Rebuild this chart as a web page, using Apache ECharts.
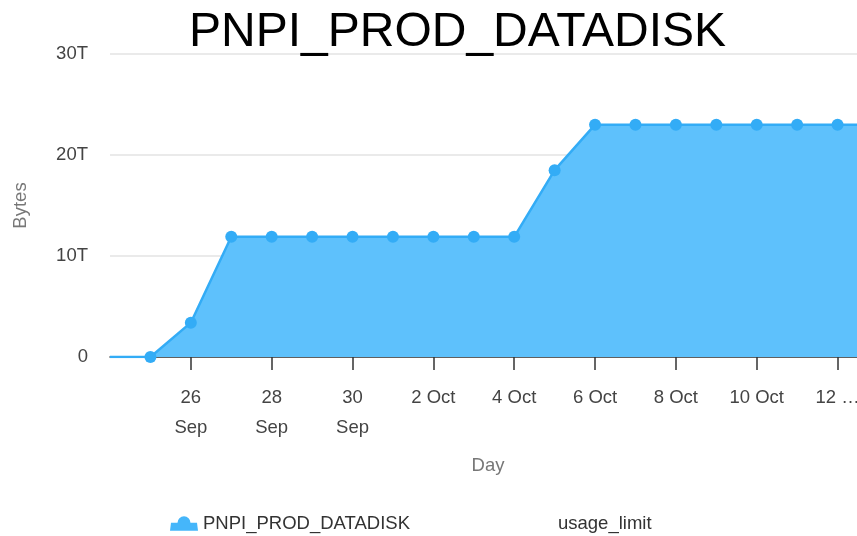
<!DOCTYPE html>
<html>
<head>
<meta charset="utf-8">
<script src="https://cdn.jsdelivr.net/npm/echarts@6/dist/echarts.min.js"></script>
<style>
html,body{margin:0;padding:0;overflow:hidden;background:#fff;}
#chart{width:915px;height:536px;}
</style>
</head>
<body>
<div id="chart"></div>
<script>
// Data
var titleText = 'PNPI_PROD_DATADISK';
var days = ['24 Sep','25 Sep','26 Sep','27 Sep','28 Sep','29 Sep','30 Sep','1 Oct','2 Oct','3 Oct',
            '4 Oct','5 Oct','6 Oct','7 Oct','8 Oct','9 Oct','10 Oct','11 Oct','12 Oct','13 Oct'];
var usageBytes = [0, 0, 3.4e12, 11.9e12, 11.9e12, 11.9e12, 11.9e12, 11.9e12, 11.9e12, 11.9e12,
                  11.9e12, 18.5e12, 23.0e12, 23.0e12, 23.0e12, 23.0e12, 23.0e12, 23.0e12, 23.0e12, 23.0e12];
var usageLimit = [];
var tickLabels = ['26\nSep','28\nSep','30\nSep','2 Oct','4 Oct','6 Oct','8 Oct','10 Oct','12 \u2026'];
var yTickLabels = {0:'0', 1e13:'10T', 2e13:'20T', 3e13:'30T'};

var FONT = '"Liberation Sans", Arial, sans-serif';
function showTick(i){ return i >= 2 && i % 2 === 0; }

var seriesData = usageBytes.map(function(v, i){
  return i === 0 ? {value: v, symbol: 'none'} : v;
});

// legend icon: filled band (slightly flared) with a dot on top
var areaIcon = 'path://M1,7 L27,7 L28,15 L0,15 Z M7.5,7 A6.5,6.5 0 1 1 20.5,7 A6.5,6.5 0 1 1 7.5,7 Z';

var chart = echarts.init(document.getElementById('chart'), null, {renderer:'canvas'});
chart.setOption({
  animation: false,
  textStyle: {fontFamily: FONT},
  title: {
    text: titleText, left: 'center', top: 4,
    textStyle: {fontFamily: FONT, fontSize: 48, fontWeight: 'normal', color: '#000'}
  },
  legend: {
    left: 165, top: 509, itemGap: 114, itemWidth: 28, itemHeight: 15,
    textStyle: {fontFamily: FONT, fontSize: 18.5, color: '#333'},
    data: [
      {name: 'PNPI_PROD_DATADISK', icon: areaIcon, itemStyle: {color: '#45b6fa'}},
      {name: 'usage_limit'}
    ]
  },
  grid: {left: 110, right: 37, top: 54, bottom: 179, outerBoundsMode: 'none', containLabel: false},
  xAxis: {
    type: 'category', data: days, boundaryGap: false,
    name: 'Day', nameLocation: 'middle', nameGap: 99,
    nameTextStyle: {fontFamily: FONT, fontSize: 18.5, color: '#777', padding: [0, 12, 0, 0]},
    axisLine: {lineStyle: {color: '#333', width: 1.5}},
    axisTick: {interval: function(i){ return showTick(i); }, length: 13, lineStyle: {color: '#333', width: 1.5}},
    axisLabel: {
      interval: function(i){ return showTick(i); },
      margin: 25.5, fontFamily: FONT, fontSize: 18.5, color: '#444', lineHeight: 30,
      formatter: function(v, i){ return tickLabels[(i - 2) / 2]; }
    },
    splitLine: {show: false}
  },
  yAxis: {
    type: 'value', min: 0, max: 3e13, interval: 1e13,
    name: 'Bytes', nameLocation: 'middle', nameGap: 80,
    nameTextStyle: {fontFamily: FONT, fontSize: 18.5, color: '#777'},
    axisLine: {show: false}, axisTick: {show: false},
    axisLabel: {margin: 22, fontFamily: FONT, fontSize: 18.5, color: '#444',
      formatter: function(v){ return yTickLabels[v]; }},
    splitLine: {lineStyle: {color: '#e3e3e3', width: 1.5}}
  },
  series: [
    {
      name: 'PNPI_PROD_DATADISK', type: 'line', data: seriesData,
      symbol: 'circle', symbolSize: 12,
      itemStyle: {color: '#33acf6'},
      lineStyle: {color: '#33acf6', width: 2.5},
      areaStyle: {color: '#5ec1fc', opacity: 1}
    },
    {
      name: 'usage_limit', type: 'line', data: usageLimit,
      itemStyle: {color: 'rgba(0,0,0,0)'}, lineStyle: {color: 'rgba(0,0,0,0)'}
    }
  ]
});
</script>
</body>
</html>
